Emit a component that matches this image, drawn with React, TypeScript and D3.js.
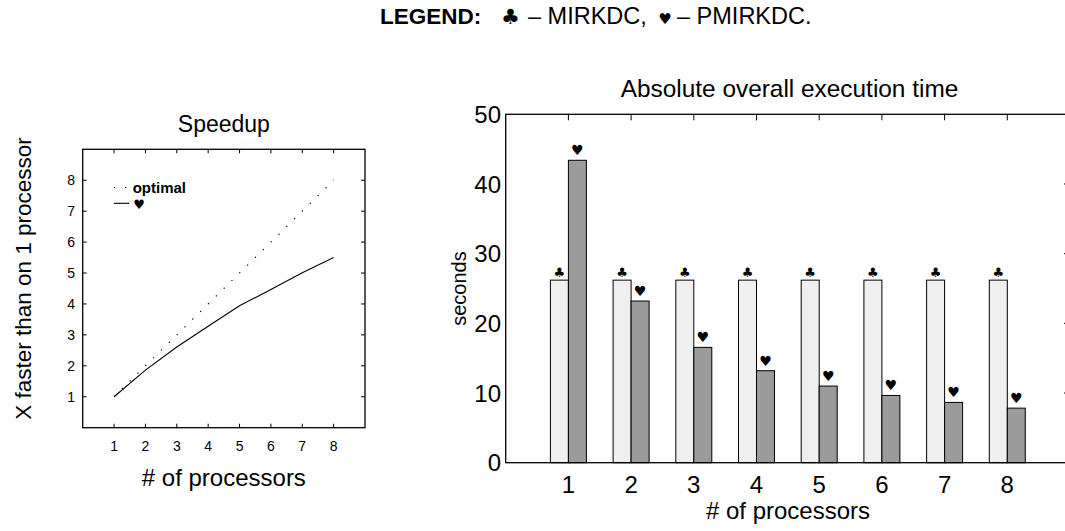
import React from "react";
import * as d3 from "d3";

// values
const processors = [1, 2, 3, 4, 5, 6, 7, 8];
const optimalSpeedup = [1, 2, 3, 4, 5, 6, 7, 8];
const pmirkdcSpeedup = [1, 1.86, 2.61, 3.28, 3.94, 4.47, 5.01, 5.5];
const mirkdcTime = [26.2, 26.2, 26.2, 26.2, 26.2, 26.2, 26.2, 26.2];
const pmirkdcTime = [43.4, 23.2, 16.55, 13.2, 11.0, 9.65, 8.65, 7.83];
const speedupTicks = [1, 2, 3, 4, 5, 6, 7, 8];
const timeTicks = [0, 10, 20, 30, 40, 50];

const FONT = "'Liberation Sans', Arial, Helvetica, sans-serif";
const SYM = "'DejaVu Sans', sans-serif";
const CLUB = "\u2663";
const HEART = "\u2665";

function SpeedupChart() {
  const x = d3.scaleLinear().domain([0, 9]).range([82.7, 365]);
  const y = d3.scaleLinear().domain([0, 9]).range([427.7, 149.3]);
  const line = d3
    .line<number>()
    .x((_, i) => x(processors[i]))
    .y((d) => y(d));
  const tk = 4;
  const [x0, x1] = x.range();
  const [y0, y1] = y.range();

  return (
    <g>
      <text x={(x0 + x1) / 2} y={131.5} textAnchor="middle" fontSize={23} fontFamily={FONT}>
        Speedup
      </text>
      <rect x={x0} y={y1} width={x1 - x0} height={y0 - y1} fill="none" stroke="#000" strokeWidth={1.3} />
      {speedupTicks.map((t) => (
        <g key={"x" + t}>
          <line x1={x(t)} x2={x(t)} y1={y0} y2={y0 - tk} stroke="#000" />
          <line x1={x(t)} x2={x(t)} y1={y1} y2={y1 + tk} stroke="#000" />
          <text x={x(t)} y={451} textAnchor="middle" fontSize={14} fontFamily={FONT}>
            {t}
          </text>
        </g>
      ))}
      {speedupTicks.map((t) => (
        <g key={"y" + t}>
          <line x1={x0} x2={x0 + tk} y1={y(t)} y2={y(t)} stroke="#000" />
          <line x1={x1} x2={x1 - tk} y1={y(t)} y2={y(t)} stroke="#000" />
          <text x={75} y={y(t)} dy="0.35em" textAnchor="end" fontSize={14} fontFamily={FONT}>
            {t}
          </text>
        </g>
      ))}
      <path d={line(optimalSpeedup) || ""} fill="none" stroke="#000" strokeWidth={1.2} strokeDasharray="1.2 9.8" />
      <path d={line(pmirkdcSpeedup) || ""} fill="none" stroke="#000" strokeWidth={1.1} />

      {/* legend */}
      <line x1={114} x2={129} y1={187.5} y2={187.5} stroke="#000" strokeWidth={1.2} strokeDasharray="1.2 9.8" />
      <text x={132.7} y={192.5} fontSize={15} fontWeight="bold" fontFamily={FONT}>
        optimal
      </text>
      <line x1={114} x2={129.3} y1={203.3} y2={203.3} stroke="#000" strokeWidth={1.1} />
      <text x={139} y={208.5} textAnchor="middle" fontSize={13} fontFamily={SYM}>
        {HEART}
      </text>

      <text x={(x0 + x1) / 2} y={486} textAnchor="middle" fontSize={24} fontFamily={FONT}>
        # of processors
      </text>
      <text
        transform={`translate(31,${(y0 + y1) / 2 - 10}) rotate(-90)`}
        textAnchor="middle"
        fontSize={22.5}
        fontFamily={FONT}
      >
        X faster than on 1 processor
      </text>
    </g>
  );
}

function TimeChart() {
  const x = d3.scaleLinear().domain([0, 9]).range([505.7, 1070]);
  const y = d3.scaleLinear().domain([0, 50]).range([462.7, 114.3]);
  const bw = x(0.287) - x(0);
  const tk = 6;
  const [x0, x1] = x.range();
  const [y0, y1] = y.range();

  return (
    <g>
      <text x={789.5} y={96.7} textAnchor="middle" fontSize={24.4} fontFamily={FONT}>
        Absolute overall execution time
      </text>
      {processors.map((p, i) => (
        <g key={p}>
          <rect
            x={x(p) - bw}
            y={y(mirkdcTime[i])}
            width={bw}
            height={y0 - y(mirkdcTime[i])}
            fill="#efefef"
            stroke="#000"
            strokeWidth={1}
          />
          <rect
            x={x(p)}
            y={y(pmirkdcTime[i])}
            width={bw}
            height={y0 - y(pmirkdcTime[i])}
            fill="#9b9b9b"
            stroke="#000"
            strokeWidth={1}
          />
          <text x={x(p) - bw / 2} y={y(mirkdcTime[i]) - 3} textAnchor="middle" fontSize={13} fontFamily={SYM}>
            {CLUB}
          </text>
          <text x={x(p) + bw / 2} y={y(pmirkdcTime[i]) - 5} textAnchor="middle" fontSize={14} fontFamily={SYM}>
            {HEART}
          </text>
          <line x1={x(p)} x2={x(p)} y1={y1} y2={y1 + tk} stroke="#000" />
          <text x={x(p)} y={492.7} textAnchor="middle" fontSize={24} fontFamily={FONT}>
            {p}
          </text>
        </g>
      ))}
      <rect x={x0} y={y1} width={x1 - x0} height={y0 - y1} fill="none" stroke="#000" strokeWidth={1.3} />
      {timeTicks.map((t) => (
        <g key={t}>
          {t > 0 && t < 50 && <line x1={x1} x2={x1 - tk} y1={y(t)} y2={y(t)} stroke="#000" />}
          <text x={501} y={y(t)} dy="0.36em" textAnchor="end" fontSize={24} fontFamily={FONT}>
            {t}
          </text>
        </g>
      ))}
      <text x={788} y={519} textAnchor="middle" fontSize={24} fontFamily={FONT}>
        # of processors
      </text>
      <text
        transform={`translate(466,${(y0 + y1) / 2}) rotate(-90)`}
        textAnchor="middle"
        fontSize={20}
        fontFamily={FONT}
      >
        seconds
      </text>
    </g>
  );
}

export default function App() {
  return (
    <svg
      width={1065}
      height={531}
      viewBox="0 0 1065 531"
      style={{ position: "absolute", left: 0, top: 0, background: "#fff" }}
    >
      <rect width={1065} height={531} fill="#fff" />
      <g fontFamily={FONT}>
        <text x={380} y={24} fontSize={22.5} fontWeight="bold">
          LEGEND:
        </text>
        <text x={510.5} y={24} textAnchor="middle" fontSize={21} fontFamily={SYM}>
          {CLUB}
        </text>
        <text x={528} y={24} fontSize={23.5}>
          – MIRKDC,
        </text>
        <text x={665} y={24} textAnchor="middle" fontSize={15} fontFamily={SYM}>
          {HEART}
        </text>
        <text x={677} y={24} fontSize={23.5}>
          – PMIRKDC.
        </text>
      </g>
      <SpeedupChart />
      <TimeChart />
    </svg>
  );
}
